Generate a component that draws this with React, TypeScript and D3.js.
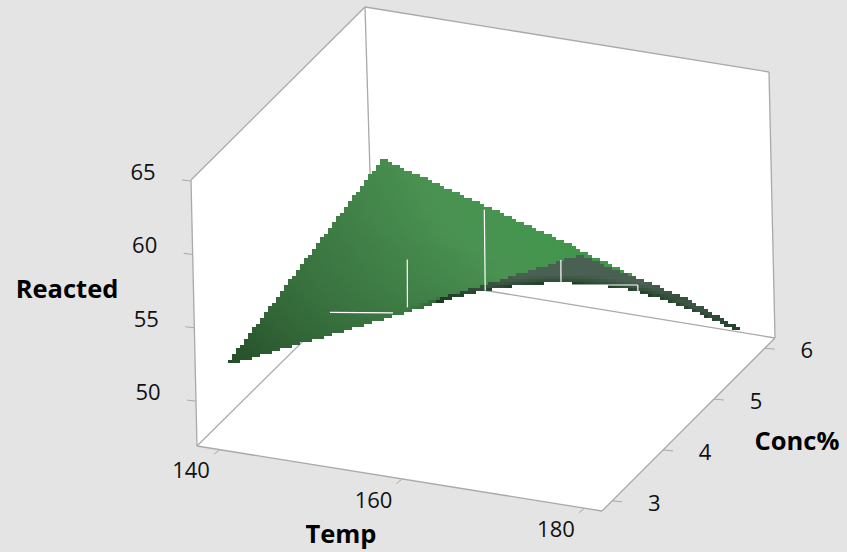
import React from "react";
import * as d3 from "d3";

const WIDTH = 847;
const HEIGHT = 552;

const tempTicks = [140, 160, 180];
const concTicks = [3, 4, 5, 6];
const reactedTicks = [50, 55, 60, 65];

// response surface, rows by conc, columns by temp
const gridTemps = [140.5, 160, 179.2];
const gridConcs = [3, 4, 5, 6];
const reactedAt3 = [52.2, 57.7, 63.3];
const reactedAt4 = [53.3, 55.9, 58.4];
const reactedAt5 = [54.4, 54.1, 53.4];
const reactedAt6 = [55.5, 51.9, 47.9];
const reactedRows = [reactedAt3, reactedAt4, reactedAt5, reactedAt6];

// thin white rendering seams on the front plane: temp, reacted, temp, reacted
const seams = [
  [161.4, 62.04, 161.3, 58.76],
  [152.76, 57.55, 159.7, 58.22],
  [170.0, 66.3, 169.9, 60.77],
  [178.3, 63.71, 178.25, 62.0],
  [178.25, 62.0, 186.7, 62.86],
  [186.7, 62.86, 186.7, 62.04],
];

const tempScale = d3.scaleLinear().domain([137.8, 182.2]).range([0, 1]);
const concScale = d3.scaleLinear().domain([2.8, 6.2]).range([0, 1]);
const reactedScale = d3.scaleLinear().domain([46.94, 65.07]).range([0, 1]);

// box corners on screen, [u][v]
const floorCorners = [
  [[197, 446], [373, 272]],
  [[602, 511], [775, 338]],
];
const topCorners = [
  [[191, 180], [365, 7]],
  [[596, 246], [769, 72]],
];

const mix = (a: number, b: number, t: number) => a + (b - a) * t;
function boxPoint(u: number, v: number, w: number): [number, number] {
  const out: number[] = [0, 1].map((k) => {
    const f = mix(
      mix(floorCorners[0][0][k], floorCorners[0][1][k], v),
      mix(floorCorners[1][0][k], floorCorners[1][1][k], v),
      u
    );
    const t = mix(
      mix(topCorners[0][0][k], topCorners[0][1][k], v),
      mix(topCorners[1][0][k], topCorners[1][1][k], v),
      u
    );
    return mix(f, t, w);
  });
  return [out[0], out[1]];
}

const iT = d3.scaleLinear().domain(gridTemps).range(gridTemps.map((_, i) => i));
const iC = d3.scaleLinear().domain(gridConcs).range(gridConcs.map((_, i) => i));
function surface(t: number, c: number) {
  const a = iT(t);
  const b = iC(c);
  const i = Math.min(Math.floor(a), gridTemps.length - 2);
  const j = Math.min(Math.floor(b), gridConcs.length - 2);
  return mix(
    mix(reactedRows[j][i], reactedRows[j][i + 1], a - i),
    mix(reactedRows[j + 1][i], reactedRows[j + 1][i + 1], a - i),
    b - j
  );
}

const topRamp = d3
  .scaleLinear<string>()
  .domain([0, 0.45, 0.8, 1])
  .range(["#1d3f20", "#38703e", "#4a9252", "#42964c"])
  .clamp(true);
const underRamp = d3
  .scaleLinear<string>()
  .domain([0, 0.06, 0.3])
  .range(["#1c3a20", "#24422a", "#4a6052"])
  .clamp(true);

const BLOCK_W = 4;
const BLOCK_H = 3;
function buildBlocks() {
  const n = 260;
  const m = 220;
  const [t0, t1] = d3.extent(gridTemps) as [number, number];
  const [c0, c1] = d3.extent(gridConcs) as [number, number];
  const best = new Map<string, { x: number; y: number; d: number; fill: string }>();
  for (let a = 0; a <= n; a++) {
    for (let b = 0; b <= m; b++) {
      const t = mix(t0, t1, a / n);
      const c = mix(c0, c1, b / m);
      const r = surface(t, c);
      const u = tempScale(t);
      const v = concScale(c);
      const w = reactedScale(r);
      const e = 0.05;
      const tA = Math.max(t0, t - e), tB = Math.min(t1, t + e);
      const cA = Math.max(c0, c - e), cB = Math.min(c1, c + e);
      const fu = (reactedScale(surface(tB, c)) - reactedScale(surface(tA, c))) / (tempScale(tB) - tempScale(tA));
      const fv = (reactedScale(surface(t, cB)) - reactedScale(surface(t, cA))) / (concScale(cB) - concScale(cA));
      const facing = 0.81 - 0.47 * fu + 1.07 * fv;
      const depth = -0.47 * u + 1.07 * v - 0.81 * w;
      const [x, y] = boxPoint(u, v, w);
      const bx = Math.floor(x / BLOCK_W) * BLOCK_W;
      const by = Math.floor(y / BLOCK_H) * BLOCK_H;
      const key = bx + "," + by;
      const prev = best.get(key);
      if (prev && prev.d <= depth) continue;
      let fill: string;
      if (facing >= 0) {
        const s = Math.pow(Math.max(0, 0.5 - 0.5 * fu - 0.6 * fv), 0.6);
        const rim = Math.min(1, 0.6 + facing * 4);
        fill = topRamp(s * rim);
      } else {
        fill = underRamp(-facing);
      }
      best.set(key, { x: bx, y: by, d: depth, fill });
    }
  }
  return Array.from(best.values());
}

const FONT = "'Open Sans', 'Noto Sans', sans-serif";
const LINE = "#a9a9a9";

const lineOf = (p: [number, number], q: [number, number], key: string) => (
  <line key={key} x1={p[0]} y1={p[1]} x2={q[0]} y2={q[1]} stroke={LINE} strokeWidth={1.3} />
);

export default function App() {
  const blocks = React.useMemo(buildBlocks, []);
  const P = (u: number, v: number, w: number) => boxPoint(u, v, w);
  const poly = (pts: [number, number][]) => pts.map((p) => p.join(",")).join(" ");
  const tickLen = 9;
  return (
    <svg
      width={WIDTH}
      height={HEIGHT}
      viewBox={`0 0 ${WIDTH} ${HEIGHT}`}
      style={{ position: "absolute", left: 0, top: 0, display: "block", background: "#e4e4e4" }}
    >
      <polygon points={poly([P(0, 0, 0), P(0, 1, 0), P(0, 1, 1), P(0, 0, 1)])} fill="#fff" />
      <polygon points={poly([P(0, 1, 0), P(1, 1, 0), P(1, 1, 1), P(0, 1, 1)])} fill="#fff" />
      <polygon points={poly([P(0, 0, 0), P(1, 0, 0), P(1, 1, 0), P(0, 1, 0)])} fill="#fff" />

      {lineOf(P(0, 0, 0), P(0, 0, 1), "e1")}
      {lineOf(P(0, 1, 0), P(0, 1, 1), "e2")}
      {lineOf(P(1, 1, 0), P(1, 1, 1), "e3")}
      {lineOf(P(0, 0, 1), P(0, 1, 1), "e4")}
      {lineOf(P(0, 1, 1), P(1, 1, 1), "e5")}
      {lineOf(P(0, 0, 0), P(1, 0, 0), "e6")}
      {lineOf(P(1, 0, 0), P(1, 1, 0), "e7")}
      {lineOf(P(1, 1, 0), P(0, 1, 0), "e8")}
      {lineOf(P(0, 1, 0), P(0, 0, 0), "e9")}

      {reactedTicks.map((r) => {
        const p = P(0, 0, reactedScale(r));
        return <line key={r} x1={p[0] - tickLen} y1={p[1] - 1} x2={p[0]} y2={p[1]} stroke={LINE} strokeWidth={1} />;
      })}
      {tempTicks.map((t) => {
        const p = P(tempScale(t), 0, 0);
        return <line key={t} x1={p[0] - 3} y1={p[1] + 5} x2={p[0] + 2} y2={p[1] + 1} stroke={LINE} strokeWidth={1} />;
      })}
      {concTicks.map((c) => {
        const p = P(1, concScale(c), 0);
        return <line key={c} x1={p[0]} y1={p[1]} x2={p[0] + 10} y2={p[1] + 1} stroke={LINE} strokeWidth={1} />;
      })}

      <g shapeRendering="crispEdges">
        {blocks.map((b) => (
          <rect key={b.x + "_" + b.y} x={b.x} y={b.y} width={BLOCK_W} height={BLOCK_H} fill={b.fill} />
        ))}
      </g>

      {seams.map((s, i) => {
        const p = boxPoint(tempScale(s[0]), 0, reactedScale(s[1]));
        const q = boxPoint(tempScale(s[2]), 0, reactedScale(s[3]));
        return <line key={i} x1={p[0]} y1={p[1]} x2={q[0]} y2={q[1]} stroke="#fff" strokeWidth={1.2} />;
      })}

      <g fontFamily={FONT} fontSize={22} fill="#111" textAnchor="middle" dominantBaseline="central">
        {reactedTicks.map((r) => {
          const p = P(0, 0, reactedScale(r));
          return <text key={r} x={p[0] - 48} y={p[1] - 10}>{r}</text>;
        })}
        {tempTicks.map((t) => {
          const p = P(tempScale(t), 0, 0);
          return <text key={t} x={p[0] - 26} y={p[1] + 20}>{t}</text>;
        })}
        {concTicks.map((c) => {
          const p = P(1, concScale(c), 0);
          return <text key={c} x={p[0] + 42} y={p[1] + 1}>{c}</text>;
        })}
      </g>
      <g fontFamily={FONT} fontSize={25.5} fontWeight={700} fill="#000" textAnchor="middle" dominantBaseline="central">
        <text x={67} y={288}>Reacted</text>
        <text x={341} y={533}>Temp</text>
        <text x={797} y={440}>Conc%</text>
      </g>
    </svg>
  );
}
